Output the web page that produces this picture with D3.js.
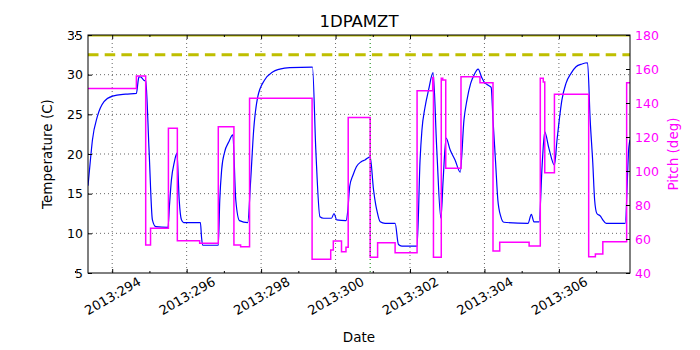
<!DOCTYPE html>
<meta charset="utf-8">
<script src="https://d3js.org/d3.v7.min.js"></script>
<style>
  body { margin: 0; background: #fff; }
  text { font-family: "DejaVu Sans", sans-serif; }
</style>
<div id="chart"></div>
<script>
// temperature trace (day of year 2013, deg C)
var tempDays = [293.35, 293.42, 293.47, 293.60, 293.78, 294.01, 294.36, 294.65, 294.70, 294.72, 294.77, 294.85, 294.90, 294.99,
  295.08, 295.17, 295.50, 295.54, 295.59, 295.67, 295.74, 295.80, 295.86, 295.92, 296.37, 296.40, 296.43, 296.85,
  296.89, 296.94, 297.02, 297.13, 297.24, 297.32, 297.42, 297.64, 297.72, 297.80, 297.91, 298.09, 298.31, 298.50,
  298.77, 299.38, 299.47, 299.58, 299.68, 299.89, 299.96, 300.03, 300.28, 300.33, 300.38, 300.47, 300.56, 300.68,
  300.79, 300.93, 301.02, 301.08, 301.11, 301.20, 301.33, 301.60, 301.69, 301.78, 302.19, 302.27, 302.32, 302.40,
  302.50, 302.62, 302.72, 302.83, 302.89, 302.97, 303.08, 303.21, 303.35, 303.45, 303.53, 303.63, 303.72, 303.83,
  303.93, 303.99, 304.09, 304.18, 304.23, 304.30, 304.36, 304.44, 304.52, 305.17, 305.26, 305.33, 305.47, 305.55,
  305.62, 305.73, 305.88, 305.95, 306.01, 306.08, 306.19, 306.33, 306.46, 306.62, 306.77, 306.84, 306.91, 306.96,
  307.02, 307.11, 307.18, 307.27, 307.78, 307.88, 307.91];
var tempVals = [16.0, 19.5, 21.8, 24.7, 26.6, 27.3, 27.55, 27.65, 29.3, 29.75, 29.7, 29.3, 29.2, 20.5,
  11.7, 10.85, 10.75, 13.6, 16.7, 19.0, 20.1, 14.2, 11.7, 11.35, 11.35, 9.5, 8.5, 8.5,
  14.2, 18.0, 20.25, 21.5, 22.4, 14.2, 11.6, 11.35, 16.7, 23.0, 27.2, 29.3, 30.35, 30.7,
  30.9, 30.95, 20.5, 12.1, 11.9, 11.9, 12.5, 11.7, 11.6, 12.9, 15.9, 17.35, 18.4, 19.0,
  19.25, 19.65, 15.5, 13.6, 12.9, 11.45, 11.25, 11.25, 8.6, 8.4, 8.4, 19.2, 23.0, 25.8,
  28.1, 30.25, 20.5, 11.9, 16.7, 22.0, 20.5, 19.25, 17.7, 24.3, 26.8, 28.9, 29.95, 30.7,
  29.6, 29.1, 28.7, 28.4, 24.3, 18.9, 14.2, 12.1, 11.4, 11.25, 12.4, 11.45, 11.45, 18.6,
  22.8, 20.75, 18.6, 21.8, 24.3, 26.8, 28.9, 30.2, 31.0, 31.35, 31.5, 24.3, 18.9, 14.2,
  12.5, 12.2, 11.7, 11.25, 11.25, 20.9, 21.8];

// pitch (deg), held constant from each start day to the next
var pitchDays = [293.35, 294.65, 294.90, 295.03, 295.51, 295.75, 296.35, 296.85, 297.27, 297.45, 297.69, 299.37,
  299.87, 299.94, 300.16, 300.28, 300.34, 300.93, 301.13, 301.60, 302.19, 302.61, 302.63, 302.84, 302.88,
  302.96, 303.37, 303.88, 304.23, 304.41, 305.20, 305.50, 305.58, 305.62, 305.88, 306.80, 306.98, 307.18,
  307.82, 307.91];
var pitchVals = [148.6, 155.9, 56.5, 66.3, 125.1, 59.0, 57.5, 126.1, 56.5, 55.5, 142.8, 48.1,
  53.5, 58.8, 52.5, 55.1, 131.4, 49.2, 57.8, 51.9, 147.2, 155.0, 49.2, 154.5, 153.5,
  101.6, 155.5, 151.9, 52.9, 58.1, 55.9, 154.5, 152.4, 99.0, 145.1, 49.6, 51.2, 58.4,
  151.9, 151.9];

var dayTicks = [294, 296, 298, 300, 302, 304, 306];
var dayMinor = [293, 295, 297, 299, 301, 303, 305, 307];
var tempTicks = [5, 10, 15, 20, 25, 30, 35];
var pitchTicks = [40, 60, 80, 100, 120, 140, 160, 180];
var limitSolid = 35;
var limitDashed = 32.5;
var markerDay = 300.93;

var margin = {top: 35, right: 70, bottom: 77, left: 88},
    width = 700 - margin.left - margin.right,
    height = 350 - margin.top - margin.bottom;

var svg = d3.select("#chart")
  .append("svg")
    .attr("width", 700)
    .attr("height", 350)
  .append("g")
    .attr("transform", "translate(" + margin.left + "," + margin.top + ")");

var x = d3.scaleLinear().domain([293.35, 307.91]).range([0, width]);
var y = d3.scaleLinear().domain([5, 35]).range([height, 0]);
var y2 = d3.scaleLinear().domain([40, 180]).range([height, 0]);

var clip = svg.append("clipPath").attr("id", "clip")
  .append("rect").attr("width", width).attr("height", height);

// grid
var grid = svg.append("g").attr("stroke", "#000").attr("stroke-width", 0.6).attr("stroke-dasharray", "1,3");
grid.selectAll(".gx").data(dayTicks).enter().append("line")
  .attr("x1", d => x(d)).attr("x2", d => x(d)).attr("y1", 0).attr("y2", height);
grid.selectAll(".gy").data(tempTicks.slice(1, -1)).enter().append("line")
  .attr("x1", 0).attr("x2", width).attr("y1", d => y(d)).attr("y2", d => y(d));

var plot = svg.append("g").attr("clip-path", "url(#clip)");

// temperature
plot.append("path")
  .datum(tempDays.map((d, i) => [d, tempVals[i]]))
  .attr("fill", "none")
  .attr("stroke", "#0000ff")
  .attr("stroke-width", 1.2)
  .attr("d", d3.line().x(d => x(d[0])).y(d => y(d[1])).curve(d3.curveMonotoneX));

// pitch
plot.append("path")
  .datum(pitchDays.map((d, i) => [d, pitchVals[i]]))
  .attr("fill", "none")
  .attr("stroke", "#ff00ff")
  .attr("stroke-width", 1.5)
  .attr("d", d3.line().x(d => x(d[0])).y(d => y2(d[1])).curve(d3.curveStepAfter));

// limits
plot.append("line")
  .attr("x1", 0).attr("x2", width).attr("y1", y(limitSolid)).attr("y2", y(limitSolid))
  .attr("stroke", "#bfbf00").attr("stroke-width", 3);
plot.append("line")
  .attr("x1", 0).attr("x2", width).attr("y1", y(limitDashed)).attr("y2", y(limitDashed))
  .attr("stroke", "#bfbf00").attr("stroke-width", 3).attr("stroke-dasharray", "10.5,6.2");
plot.append("line")
  .attr("x1", x(markerDay)).attr("x2", x(markerDay)).attr("y1", 0).attr("y2", height)
  .attr("stroke", "#008000").attr("stroke-width", 1).attr("stroke-dasharray", "1,3");

// axes (ticks pointing inward)
svg.append("g").attr("transform", "translate(0," + height + ")")
  .call(d3.axisBottom(x).tickValues(dayTicks).tickSize(-4).tickPadding(8).tickFormat(d => "2013:" + d))
  .call(g => g.select(".domain").remove())
  .selectAll("text")
    .attr("font-size", 13)
    .attr("font-family", "DejaVu Sans")
    .style("text-anchor", "middle")
    .attr("dy", null)
    .attr("transform", function(d) { return "translate(0,23)rotate(-30)"; })
    .attr("y", 0)
    .attr("dominant-baseline", "central");
svg.append("g").attr("transform", "translate(0," + height + ")")
  .call(d3.axisBottom(x).tickValues(dayMinor).tickSize(-2).tickFormat(""))
  .call(g => g.select(".domain").remove());
svg.append("g")
  .call(d3.axisTop(x).tickValues(dayTicks).tickSize(-4).tickFormat(""))
  .call(g => g.select(".domain").remove());
svg.append("g")
  .call(d3.axisTop(x).tickValues(dayMinor).tickSize(-2).tickFormat(""))
  .call(g => g.select(".domain").remove());

svg.append("g")
  .call(d3.axisLeft(y).tickValues(tempTicks).tickSize(-4).tickPadding(5))
  .call(g => g.select(".domain").remove())
  .selectAll("text").attr("font-size", 12.5).attr("font-family", "DejaVu Sans").attr("fill", "#000");

var right = svg.append("g").attr("transform", "translate(" + width + ",0)")
  .call(d3.axisRight(y2).tickValues(pitchTicks).tickSize(-4).tickPadding(5))
  .call(g => g.select(".domain").remove());
right.selectAll("text").attr("font-size", 12.5).attr("font-family", "DejaVu Sans").attr("fill", "#ff00ff");

// frame
svg.append("rect").attr("width", width).attr("height", height)
  .attr("fill", "none").attr("stroke", "#000").attr("stroke-width", 1);

// labels
svg.append("text").attr("x", width / 2).attr("y", -8).attr("text-anchor", "middle")
  .attr("font-size", 16.5).text("1DPAMZT");
svg.append("text").attr("x", width / 2).attr("y", height + 69).attr("text-anchor", "middle")
  .attr("font-size", 13.5).text("Date");
svg.append("text").attr("transform", "translate(-36," + (height / 2) + ")rotate(-90)")
  .attr("text-anchor", "middle").attr("font-size", 13.5).text("Temperature (C)");
svg.append("text").attr("transform", "translate(" + (width + 48) + "," + (height / 2) + ")rotate(-90)")
  .attr("text-anchor", "middle").attr("font-size", 13.5).attr("fill", "#ff00ff").text("Pitch (deg)");
</script>
